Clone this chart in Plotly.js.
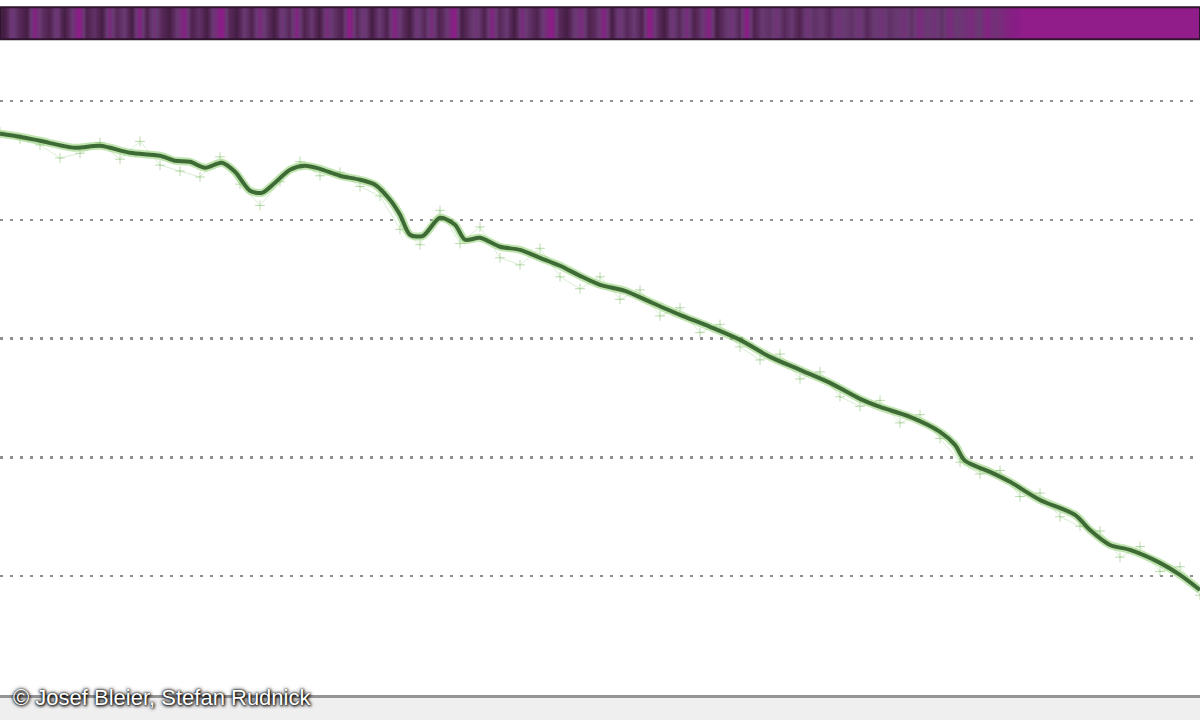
<!DOCTYPE html>
<html>
<head>
<meta charset="utf-8">
<script src="https://cdn.plot.ly/plotly-3.0.1.min.js"></script>
<style>html,body{margin:0;padding:0;background:#fff;}#chart{width:1200px;height:720px;}</style>
</head>
<body>
<div id="chart"></div>
<script>
// Smoothed profile (dark green line)
const lineX = [0,20,40,75,100,130,160,175,190,205,222,235,250,262,275,290,305,320,340,360,375,390,400,410,423,440,455,465,480,500,520,540,560,580,600,625,650,680,710,740,770,800,830,860,880,910,940,955,965,990,1010,1040,1075,1090,1110,1130,1160,1180,1200];
const lineY = [47.24,46.99,46.65,46.06,46.23,45.64,45.39,44.97,44.88,44.38,44.80,44.04,42.44,42.27,43.12,44.21,44.55,44.29,43.71,43.37,42.95,41.68,40.42,38.74,38.65,40.17,39.58,38.32,38.48,37.73,37.47,36.80,36.13,35.28,34.53,34.02,33.09,32.00,30.99,29.89,28.46,27.37,26.27,24.93,24.25,23.41,22.15,21.05,19.71,18.78,17.94,16.42,15.16,13.89,12.63,12.21,11.12,10.11,8.84];

// Raw measurements (faint light green)
const rawX = [0,20,40,60,80,100,120,140,160,180,200,220,240,260,280,300,320,340,360,380,400,420,440,460,480,500,520,540,560,580,600,620,640,660,680,700,720,740,760,780,800,820,840,860,880,900,920,940,960,980,1000,1020,1040,1060,1080,1100,1120,1140,1160,1180,1200];
const rawY = [47.4,46.8,46.3,45.2,45.6,46.5,45.1,46.6,44.6,44.1,43.6,45.3,43.0,41.2,43.2,44.9,43.7,44.0,42.8,42.0,39.2,37.9,40.8,38.0,39.4,36.8,36.2,37.6,35.2,34.2,35.2,33.3,34.1,31.9,32.6,30.5,31.2,29.3,28.2,28.7,26.6,27.2,25.1,24.3,24.8,22.9,23.6,21.6,19.6,18.6,18.9,16.7,17.0,15.0,14.2,13.8,11.6,12.5,10.4,10.8,8.4];

// Colour band values (one row of narrow stripes)
const bandZ = [
  0.1,0.6,0.3,0.1,0.8,0.4,0.2,0.6,0.1,0.5,0.9,0.2,0.4,0.1,0.7,0.3,0.5,0.1,0.8,0.2,
  0.6,0.3,0.1,0.5,0.8,0.2,0.4,0.1,0.6,0.9,0.3,0.1,0.5,0.2,0.7,0.4,0.1,0.6,0.3,0.8,
  0.2,0.5,0.1,0.7,0.4,0.2,0.9,0.3,0.6,0.1,0.5,0.2,0.8,0.4,0.1,0.6,0.3,0.7,0.2,0.5,
  0.9,0.1,0.4,0.6,0.2,0.8,0.3,0.5,0.1,0.7,0.4,0.2,0.6,0.9,0.3,0.1,0.5,0.7,0.2,0.4,
  0.8,0.1,0.6,0.3,0.5,0.2,0.9,0.4,0.1,0.6,0.3,0.7,0.2,0.5,0.8,0.1,0.4,0.6,0.3,0.9,
  0.2,0.5,0.4,0.6,0.3,0.5,0.2,0.6,0.4,0.5,0.3,0.6,0.5,0.4,0.6,0.3,0.5,0.6,0.4,0.5,
  0.6,0.4,0.7,0.5,0.6,0.4,0.7,0.5,0.6,0.7,0.5,0.8,0.6,0.7,0.8,0.85,
  0.9,0.9,0.9,0.9,0.9,0.9,0.9,0.9,0.9,0.9,0.9,0.9,
  0.9,0.9,0.9,0.9,0.9,0.9,0.9,0.9,0.9,0.9,0.9,0.9];
const bandEdgesY = [55.2, 57.9];

const credit = "© Josef Bleier, Stefan Rudnick";

const traces = [
  {
    type: 'heatmap', z: [bandZ], x0: 3.75, dx: 7.5, y: bandEdgesY,
    colorscale: [[0,'#3a1a38'],[0.3,'#58285a'],[0.5,'#683a72'],[0.7,'#7a2a7c'],[0.85,'#8a1c86'],[1,'#9e1e96']],
    zmin: 0, zmax: 1, showscale: false, hoverinfo: 'skip', zsmooth: 'best'
  },
  {
    type: 'scatter', mode: 'lines+markers', x: rawX, y: rawY,
    line: {color: 'rgba(150,205,130,0.35)', width: 1},
    marker: {symbol: 'cross-thin', size: 7, line: {color: 'rgba(140,195,120,0.6)', width: 1}},
    hoverinfo: 'skip'
  },
  {
    type: 'scatter', mode: 'lines', x: lineX, y: lineY,
    line: {color: 'rgba(140,205,110,0.55)', width: 8, shape: 'spline', smoothing: 0.8},
    hoverinfo: 'skip'
  },
  {
    type: 'scatter', mode: 'lines', x: lineX, y: lineY,
    line: {color: '#3e6a36', width: 4, shape: 'spline', smoothing: 0.8},
    hoverinfo: 'skip'
  }
];

const layout = {
  width: 1200, height: 720,
  margin: {l: 0, r: 0, t: 0, b: 25},
  paper_bgcolor: '#ffffff', plot_bgcolor: '#ffffff',
  showlegend: false,
  xaxis: {range: [0, 1200], showgrid: false, zeroline: false, showticklabels: false, ticks: '',
          showline: true, linecolor: '#959595', linewidth: 3},
  yaxis: {range: [0, 58.5], tick0: 0, dtick: 10, showgrid: true, gridcolor: '#8f8f8f', gridwidth: 2.5,
          griddash: '3px,7px', zeroline: false, showticklabels: false, ticks: '', showline: false},
  shapes: [
    {type: 'rect', xref: 'paper', yref: 'paper', x0: 0, x1: 1, y0: -0.037, y1: -0.002,
     fillcolor: '#efefef', line: {width: 0}, layer: 'below'},
    {type: 'rect', xref: 'x', yref: 'y', x0: 0, x1: 1200, y0: 55.2, y1: 57.9,
     line: {color: '#2e142c', width: 2}, fillcolor: 'rgba(0,0,0,0)'}
  ],
  annotations: [
    {text: credit, xref: 'paper', yref: 'paper', x: 0.009, y: -0.004, xanchor: 'left', yanchor: 'middle',
     showarrow: false,
     font: {family: 'Liberation Sans, Arial, sans-serif', size: 22, color: '#ffffff',
            shadow: '0 0 4px #000, 0 0 2px #000, 1px 1px 3px #000'}}
  ]
};

Plotly.newPlot('chart', traces, layout, {staticPlot: true, displayModeBar: false});
</script>
</body>
</html>
